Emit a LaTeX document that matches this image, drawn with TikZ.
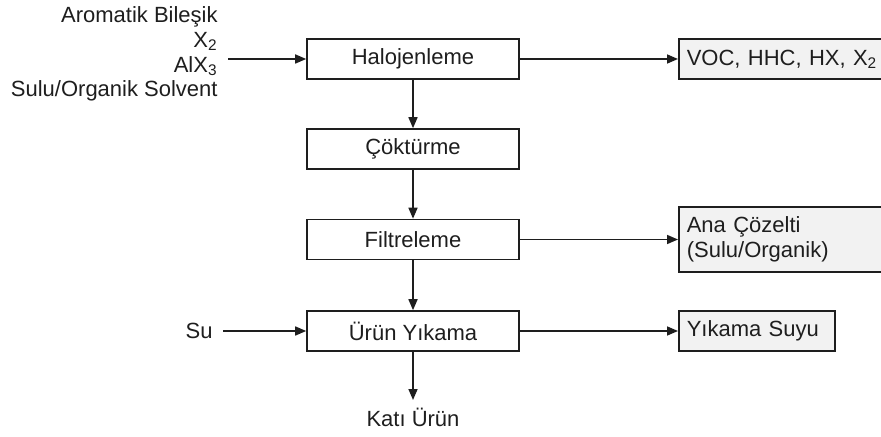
\documentclass[tikz,border=0pt]{standalone}
\usepackage{fontspec}
\setmainfont{Liberation Sans}
\usetikzlibrary{arrows.meta}

\definecolor{outgray}{RGB}{242,242,242}
\definecolor{ink}{RGB}{30,30,30}

\begin{document}
\begin{tikzpicture}[x=0.5pt,y=-0.5pt,
    font=\fontsize{11}{12.35}\selectfont, text=ink,
    process/.style={draw=ink, line width=0.8pt, fill=white,
        minimum width=106pt, minimum height=20pt, inner sep=0pt},
    output/.style={draw=ink, line width=0.8pt, fill=outgray, anchor=west,
        align=left, inner xsep=4pt, inner ysep=0pt, minimum height=20pt},
    flow/.style={draw=ink, line width=0.8pt, -{Triangle[length=5.5pt,width=4.5pt]}}]

    % Fix the page
    \clip (0,0) rectangle (881,437);

    % Define the process steps
    \node[process] (halo) at (413,59) {Halojenleme};
    \node[process] (cokt) at (413,149) {Çöktürme};
    \node[process] (filt) at (413,239.5) {Filtreleme};
    \node[process] (yikama) at (413,331) {Ürün Yıkama};

    % Inputs
    \node[anchor=east, align=right, inner xsep=5pt] (feed) at (228,54)
        {Aromatik Bileşik\\X\textsubscript{2}\\AlX\textsubscript{3}\\Sulu/Organik Solvent};
    \node[anchor=east, inner xsep=5pt] (su) at (223,331) {Su};

    % Outputs
    \node[output, text width=110pt] (voc) at (678,59) {VOC, HHC, HX, X\textsubscript{2}};
    \node[output, text width=110pt, minimum height=32.5pt] (ana) at (678,239.5)
        {Ana Çözelti\\(Sulu/Organik)};
    \node[output, text width=70pt] (suyu) at (678,331) {Yıkama Suyu};
    \node[anchor=north, inner ysep=4pt] (kati) at (413,400) {Katı Ürün};

    % Main line
    \draw[flow] (halo) -- (cokt);
    \draw[flow] (cokt) -- (filt);
    \draw[flow] (filt) -- (yikama);
    \draw[flow] (yikama) -- (kati);

    % Side streams
    \draw[flow] (feed.east |- halo.west) -- (halo.west);
    \draw[flow] (su) -- (yikama);
    \draw[flow] (halo.east) -- (voc.west);
    \draw[flow] (filt.east) -- (ana.west);
    \draw[flow] (yikama.east) -- (suyu.west);

\end{tikzpicture}
\end{document}
